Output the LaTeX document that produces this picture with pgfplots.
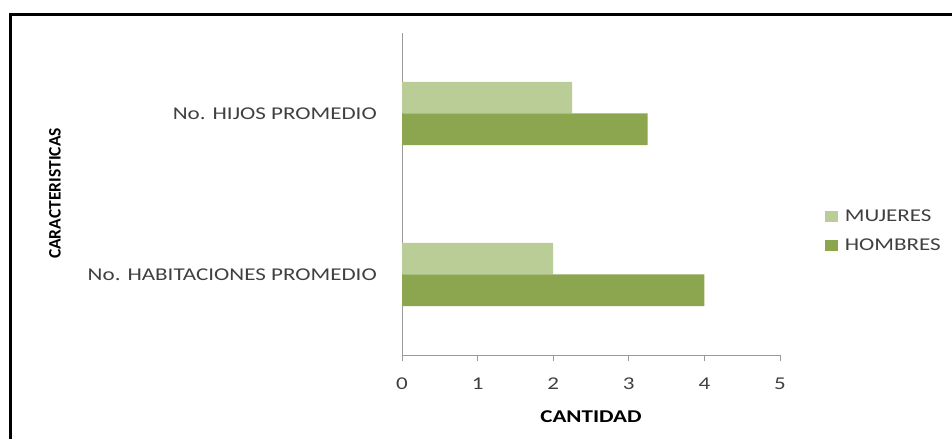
\documentclass[border=0pt]{standalone}
\usepackage{pgfplots}
\pgfplotsset{compat=1.18}
\usepackage{fontspec}
\setmainfont{Carlito}[FakeStretch=1.28]
\newfontfamily\plainfont{Carlito}
\definecolor{muj}{HTML}{BACD97}
\definecolor{hom}{HTML}{8BA64F}
\definecolor{axgray}{HTML}{9A9A9A}
\definecolor{txt}{HTML}{404040}
\begin{document}
\begin{tikzpicture}
\useasboundingbox (0pt,0pt) rectangle (952pt,439pt);
\fill[white] (0pt,0pt) rectangle (952pt,439pt);
\draw[line width=2.6pt] (10.5pt,0pt) -- (10.5pt,424.5pt) -- (952pt,424.5pt);
\begin{axis}[
  at={(402pt,84pt)}, anchor=south west,
  scale only axis, width=378pt, height=322pt,
  xbar, bar width=0.196,
  xmin=0, xmax=5, ymin=-0.5, ymax=1.5,
  axis x line=bottom, axis y line=left,
  axis line style={-, axgray, line width=0.9pt},
  xtick={0,1,2,3,4,5},
  ytick={0,1},
  yticklabels={No. HABITACIONES PROMEDIO, No. HIJOS PROMEDIO},
  ytick style={draw=none},
  xtick style={axgray, line width=0.9pt},
  tick align=outside, major tick length=6pt,
  /pgf/number format/assume math mode=true,
  tick label style={font=\fontsize{18}{21}\selectfont, text=txt},
  xticklabel style={anchor=north, inner sep=0pt, yshift=-17pt},
  yticklabel style={anchor=east, inner sep=0pt, xshift=-19pt},
  clip=false,
  legend cell align=left,
  legend style={draw=none, fill=none, at={(1.118,0.385)}, anchor=west,
    font=\fontsize{18}{21}\selectfont, text=txt, row sep=12pt, column sep=5pt, inner sep=0pt},
  legend image code/.code={\fill (0pt,-5.5pt) rectangle (13pt,5.5pt);},
]
\addplot[fill=muj, draw=none, bar shift=0.098] coordinates {(2,0) (2.25,1)};
\addlegendentry{MUJERES}
\addplot[fill=hom, draw=none, bar shift=-0.098] coordinates {(4,0) (3.25,1)};
\addlegendentry{HOMBRES}
\end{axis}
\node at (591pt,22pt) {\fontsize{18}{21}\selectfont\bfseries CANTIDAD};
\node[rotate=90] at (55pt,245.5pt) {\plainfont\fontsize{17.5}{20}\selectfont\bfseries CARACTERISTICAS};
\end{tikzpicture}
\end{document}
